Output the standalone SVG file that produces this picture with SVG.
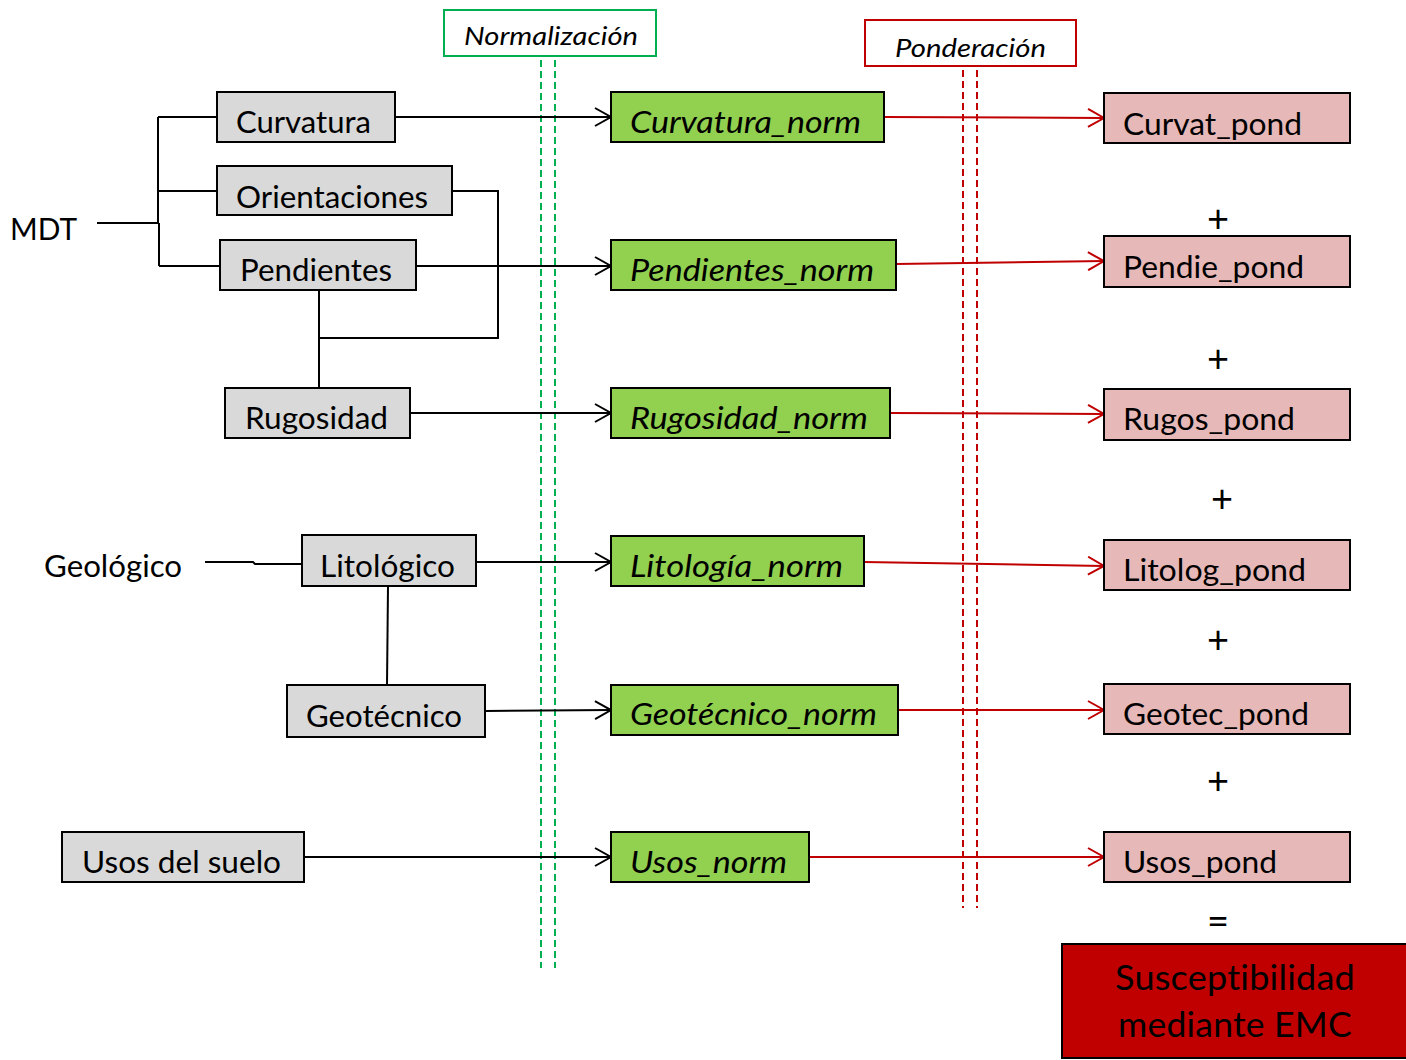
<svg xmlns="http://www.w3.org/2000/svg" width="1406" height="1060" viewBox="0 0 1406 1060">
<defs>
<style>
.t{font-family:Lato,"Open Sans","Liberation Sans",sans-serif;font-size:30px;fill:#000;font-variant-ligatures:none;font-feature-settings:"liga" 0,"clig" 0}
.i{font-style:italic}
.h{font-size:26px}
.g{fill:#d9d9d9;stroke:#000;stroke-width:2}
.n{fill:#92d050;stroke:#000;stroke-width:2}
.p{fill:#e6b8b7;stroke:#000;stroke-width:2}
.k{stroke:#000;stroke-width:2;fill:none}
.r{stroke:#c00000;stroke-width:2;fill:none}
.gd{stroke:#00b050;stroke-width:2;stroke-dasharray:7,4;fill:none}
.rd{stroke:#c00000;stroke-width:2;stroke-dasharray:7,4;fill:none}
.op{font-family:Lato,"Open Sans","Liberation Sans",sans-serif;font-size:38px;fill:#000;text-anchor:middle}
.big{font-size:35px;letter-spacing:0.2px}
</style>
<marker id="ak" markerWidth="20" markerHeight="20" refX="17" refY="10" orient="auto" markerUnits="userSpaceOnUse">
<path d="M1,1 L17,10 L1,19" fill="none" stroke="#000" stroke-width="2"/>
</marker>
<marker id="ar" markerWidth="20" markerHeight="20" refX="17" refY="10" orient="auto" markerUnits="userSpaceOnUse">
<path d="M1,1 L17,10 L1,19" fill="none" stroke="#c00000" stroke-width="2"/>
</marker>
</defs>
<rect width="1406" height="1060" fill="#fff"/>

<g id="guides">
<line class="gd" x1="541" y1="60" x2="541" y2="968"/>
<line class="gd" x1="555" y1="60" x2="555" y2="968"/>
<line class="rd" x1="963" y1="70" x2="963" y2="908"/>
<line class="rd" x1="977" y1="70" x2="977" y2="908"/>
</g>

<g id="connectors">
<path class="k" d="M97,223 H158 M158,117 V223 M159,223 V266 M158,117 H217 M158,191 H217 M159,266 H220"/>
<path class="k" d="M452,191 H498 V338 H319 M319,290 V388"/>
<path class="k" d="M205,562 H253 L255,564 H302"/>
<path class="k" d="M388,586 L387,685"/>
<line class="k" x1="395" y1="117" x2="611" y2="117" marker-end="url(#ak)"/>
<line class="k" x1="416" y1="266" x2="611" y2="266" marker-end="url(#ak)"/>
<line class="k" x1="410" y1="413" x2="611" y2="413" marker-end="url(#ak)"/>
<line class="k" x1="476" y1="562" x2="611" y2="562" marker-end="url(#ak)"/>
<line class="k" x1="485" y1="711" x2="611" y2="710" marker-end="url(#ak)"/>
<line class="k" x1="304" y1="857" x2="611" y2="857" marker-end="url(#ak)"/>
<line class="r" x1="884" y1="117" x2="1104" y2="118" marker-end="url(#ar)"/>
<line class="r" x1="896" y1="264" x2="1104" y2="261" marker-end="url(#ar)"/>
<line class="r" x1="890" y1="413" x2="1104" y2="414" marker-end="url(#ar)"/>
<line class="r" x1="864" y1="562" x2="1104" y2="566" marker-end="url(#ar)"/>
<line class="r" x1="898" y1="710" x2="1104" y2="710" marker-end="url(#ar)"/>
<line class="r" x1="809" y1="857" x2="1104" y2="857" marker-end="url(#ar)"/>
</g>

<g id="normalizacion">
<rect x="444" y="10" width="212" height="46" fill="#fff" stroke="#00b050" stroke-width="2"/>
<text class="t i h" x="464" y="45" textLength="174" lengthAdjust="spacingAndGlyphs">Normalización</text>
</g>
<g id="ponderacion">
<rect x="865" y="20" width="211" height="46" fill="#fff" stroke="#c00000" stroke-width="2"/>
<text class="t i h" x="895" y="57" textLength="151" lengthAdjust="spacingAndGlyphs">Ponderación</text>
</g>

<g id="mdt"><text class="t" x="10" y="240" textLength="67" lengthAdjust="spacingAndGlyphs">MDT</text></g>
<g id="geologico"><text class="t" x="44" y="577" textLength="138" lengthAdjust="spacingAndGlyphs">Geológico</text></g>

<g id="curvatura"><rect class="g" x="217" y="92" width="178" height="50"/><text class="t" x="236" y="133" textLength="135" lengthAdjust="spacingAndGlyphs">Curvatura</text></g>
<g id="orientaciones"><rect class="g" x="217" y="166" width="235" height="49"/><text class="t" x="236" y="208" textLength="192" lengthAdjust="spacingAndGlyphs">Orientaciones</text></g>
<g id="pendientes"><rect class="g" x="220" y="240" width="196" height="50"/><text class="t" x="240" y="281" textLength="152" lengthAdjust="spacingAndGlyphs">Pendientes</text></g>
<g id="rugosidad"><rect class="g" x="225" y="388" width="185" height="50"/><text class="t" x="245" y="429" textLength="143" lengthAdjust="spacingAndGlyphs">Rugosidad</text></g>
<g id="litologico"><rect class="g" x="302" y="535" width="174" height="51"/><text class="t" x="320" y="577" textLength="135" lengthAdjust="spacingAndGlyphs">Litológico</text></g>
<g id="geotecnico"><rect class="g" x="287" y="685" width="198" height="52"/><text class="t" x="306" y="727" textLength="156" lengthAdjust="spacingAndGlyphs">Geotécnico</text></g>
<g id="usos"><rect class="g" x="62" y="832" width="242" height="50"/><text class="t" x="82" y="873" textLength="199" lengthAdjust="spacingAndGlyphs">Usos del suelo</text></g>

<g id="curvatura_norm"><rect class="n" x="611" y="92" width="273" height="50"/><text class="t i" x="630" y="133" textLength="231" lengthAdjust="spacingAndGlyphs">Curvatura_norm</text></g>
<g id="pendientes_norm"><rect class="n" x="611" y="240" width="285" height="50"/><text class="t i" x="630" y="281" textLength="244" lengthAdjust="spacingAndGlyphs">Pendientes_norm</text></g>
<g id="rugosidad_norm"><rect class="n" x="611" y="388" width="279" height="50"/><text class="t i" x="630" y="429" textLength="238" lengthAdjust="spacingAndGlyphs">Rugosidad_norm</text></g>
<g id="litologia_norm"><rect class="n" x="611" y="536" width="253" height="50"/><text class="t i" x="630" y="577" textLength="213" lengthAdjust="spacingAndGlyphs">Litología_norm</text></g>
<g id="geotecnico_norm"><rect class="n" x="611" y="685" width="287" height="50"/><text class="t i" x="630" y="725" textLength="247" lengthAdjust="spacingAndGlyphs">Geotécnico_norm</text></g>
<g id="usos_norm"><rect class="n" x="611" y="832" width="198" height="50"/><text class="t i" x="630" y="873" textLength="157" lengthAdjust="spacingAndGlyphs">Usos_norm</text></g>

<g id="curvat_pond"><rect class="p" x="1104" y="93" width="246" height="50"/><text class="t" x="1123" y="135" textLength="179" lengthAdjust="spacingAndGlyphs">Curvat_pond</text></g>
<g id="pendie_pond"><rect class="p" x="1104" y="236" width="246" height="51"/><text class="t" x="1123" y="278" textLength="181" lengthAdjust="spacingAndGlyphs">Pendie_pond</text></g>
<g id="rugos_pond"><rect class="p" x="1104" y="389" width="246" height="51"/><text class="t" x="1123" y="430" textLength="172" lengthAdjust="spacingAndGlyphs">Rugos_pond</text></g>
<g id="litolog_pond"><rect class="p" x="1104" y="540" width="246" height="50"/><text class="t" x="1123" y="581" textLength="183" lengthAdjust="spacingAndGlyphs">Litolog_pond</text></g>
<g id="geotec_pond"><rect class="p" x="1104" y="684" width="246" height="50"/><text class="t" x="1123" y="725" textLength="186" lengthAdjust="spacingAndGlyphs">Geotec_pond</text></g>
<g id="usos_pond"><rect class="p" x="1104" y="832" width="246" height="50"/><text class="t" x="1123" y="873" textLength="154" lengthAdjust="spacingAndGlyphs">Usos_pond</text></g>

<g id="operators">
<text class="op" x="1218" y="232">+</text>
<text class="op" x="1218" y="372">+</text>
<text class="op" x="1222" y="512">+</text>
<text class="op" x="1218" y="653">+</text>
<text class="op" x="1218" y="794">+</text>
<text class="op" x="1218" y="935">=</text>
</g>

<g id="susceptibilidad">
<rect x="1062" y="944" width="350" height="114" fill="#c00000" stroke="#000" stroke-width="2"/>
<text class="t big" x="1115" y="990" textLength="240" lengthAdjust="spacingAndGlyphs">Susceptibilidad</text>
<text class="t big" x="1118" y="1037" textLength="234" lengthAdjust="spacingAndGlyphs">mediante EMC</text>
</g>
</svg>
